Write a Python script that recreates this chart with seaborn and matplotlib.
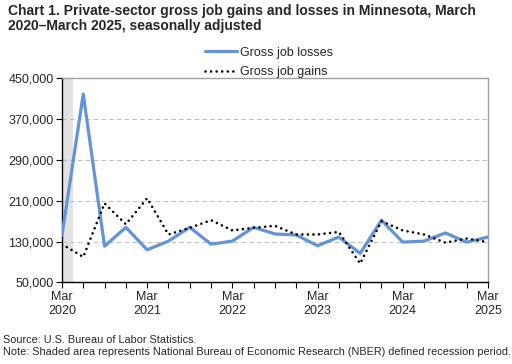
import pandas as pd
import numpy as np
import matplotlib
matplotlib.use("Agg")
import matplotlib.pyplot as plt
import seaborn as sns

# quarterly values, March 2020 - March 2025
quarters = pd.period_range("2020Q1", "2025Q1", freq="Q")
job_losses = [142000, 419000, 121000, 158000, 114000, 131000, 158000, 125000, 131000, 158000,
              145000, 143000, 122000, 139000, 107000, 172000, 129000, 131000, 147000, 129000, 139000]
job_gains = [125000, 100000, 205000, 164000, 215000, 144000, 157000, 172000, 152000, 157000,
             161000, 144000, 144000, 149000, 87000, 170000, 152000, 144000, 128000, 136000, 129000]
tick_labels = ["Mar\n2020", "Mar\n2021", "Mar\n2022", "Mar\n2023", "Mar\n2024", "Mar\n2025"]

if __name__ == '__main__':
    sns.set_style("white")
    plt.rcParams["font.family"] = ["Liberation Sans", "DejaVu Sans"]

    df = pd.DataFrame(dict(q=np.arange(len(quarters)), losses=job_losses, gains=job_gains))

    fig, ax = plt.subplots(figsize=(5.12, 3.64), dpi=100)
    fig.subplots_adjust(left=0.121, right=0.953, top=0.785, bottom=0.224)

    # NBER recession shading
    ax.axvspan(0, 0.5, color="#e2e2e2", lw=0, zorder=0)

    sns.lineplot(data=df, x="q", y="losses", ax=ax, color="#6394d8", lw=2.3,
                 label="Gross job losses", zorder=3)
    sns.lineplot(data=df, x="q", y="gains", ax=ax, color="black", lw=1.9,
                 linestyle=(0, (0.01, 2.1)), dash_capstyle="round",
                 label="Gross job gains", zorder=4)

    ax.set_xlim(0, len(quarters) - 1)
    ax.set_ylim(50000, 450000)
    ax.set_yticks(np.arange(50000, 450001, 80000))
    ax.set_yticklabels([f"{v:,}" for v in range(50000, 450001, 80000)], fontsize=9)
    ax.set_xticks(np.arange(0, len(quarters), 4))
    ax.set_xticklabels(tick_labels, fontsize=9)
    ax.set_xticks(np.arange(len(quarters)), minor=True)
    ax.tick_params(axis="both", which="both", direction="out", length=4, width=0.8,
                   color="black", pad=2)
    ax.tick_params(axis="x", which="both", bottom=True)
    ax.tick_params(axis="y", left=True)
    ax.set_xlabel("")
    ax.set_ylabel("")

    for y in [130000, 210000, 290000, 370000]:
        ax.axhline(y, color="#c0c0c0", lw=0.8, ls=(0, (4, 3)), zorder=1)

    for side in ["left", "bottom"]:
        ax.spines[side].set_color("black")
        ax.spines[side].set_linewidth(1)
    for side in ["top", "right"]:
        ax.spines[side].set_color("#a0a0a0")
        ax.spines[side].set_linewidth(1)

    ax.legend_.remove()
    handles, labels = ax.get_legend_handles_labels()
    fig.legend(handles, labels, loc="upper left", bbox_to_anchor=(0.39, 0.885),
               frameon=False, fontsize=9, handlelength=2.6, handletextpad=0.25,
               labelspacing=0.6, borderaxespad=0)

    fig.text(0.016, 0.988, "Chart 1. Private-sector gross job gains and losses in Minnesota, March\n"
             "2020\u2013March 2025, seasonally adjusted",
             ha="left", va="top", fontsize=10, fontweight="bold", linespacing=1.1)
    fig.text(0.006, 0.053, "Source: U.S. Bureau of Labor Statistics.", fontsize=7.8, va="bottom")
    fig.text(0.006, 0.02, "Note: Shaded area represents National Bureau of Economic Research (NBER) "
             "defined recession period.", fontsize=7.8, va="bottom")

    fig.savefig("out.png", dpi=100)
